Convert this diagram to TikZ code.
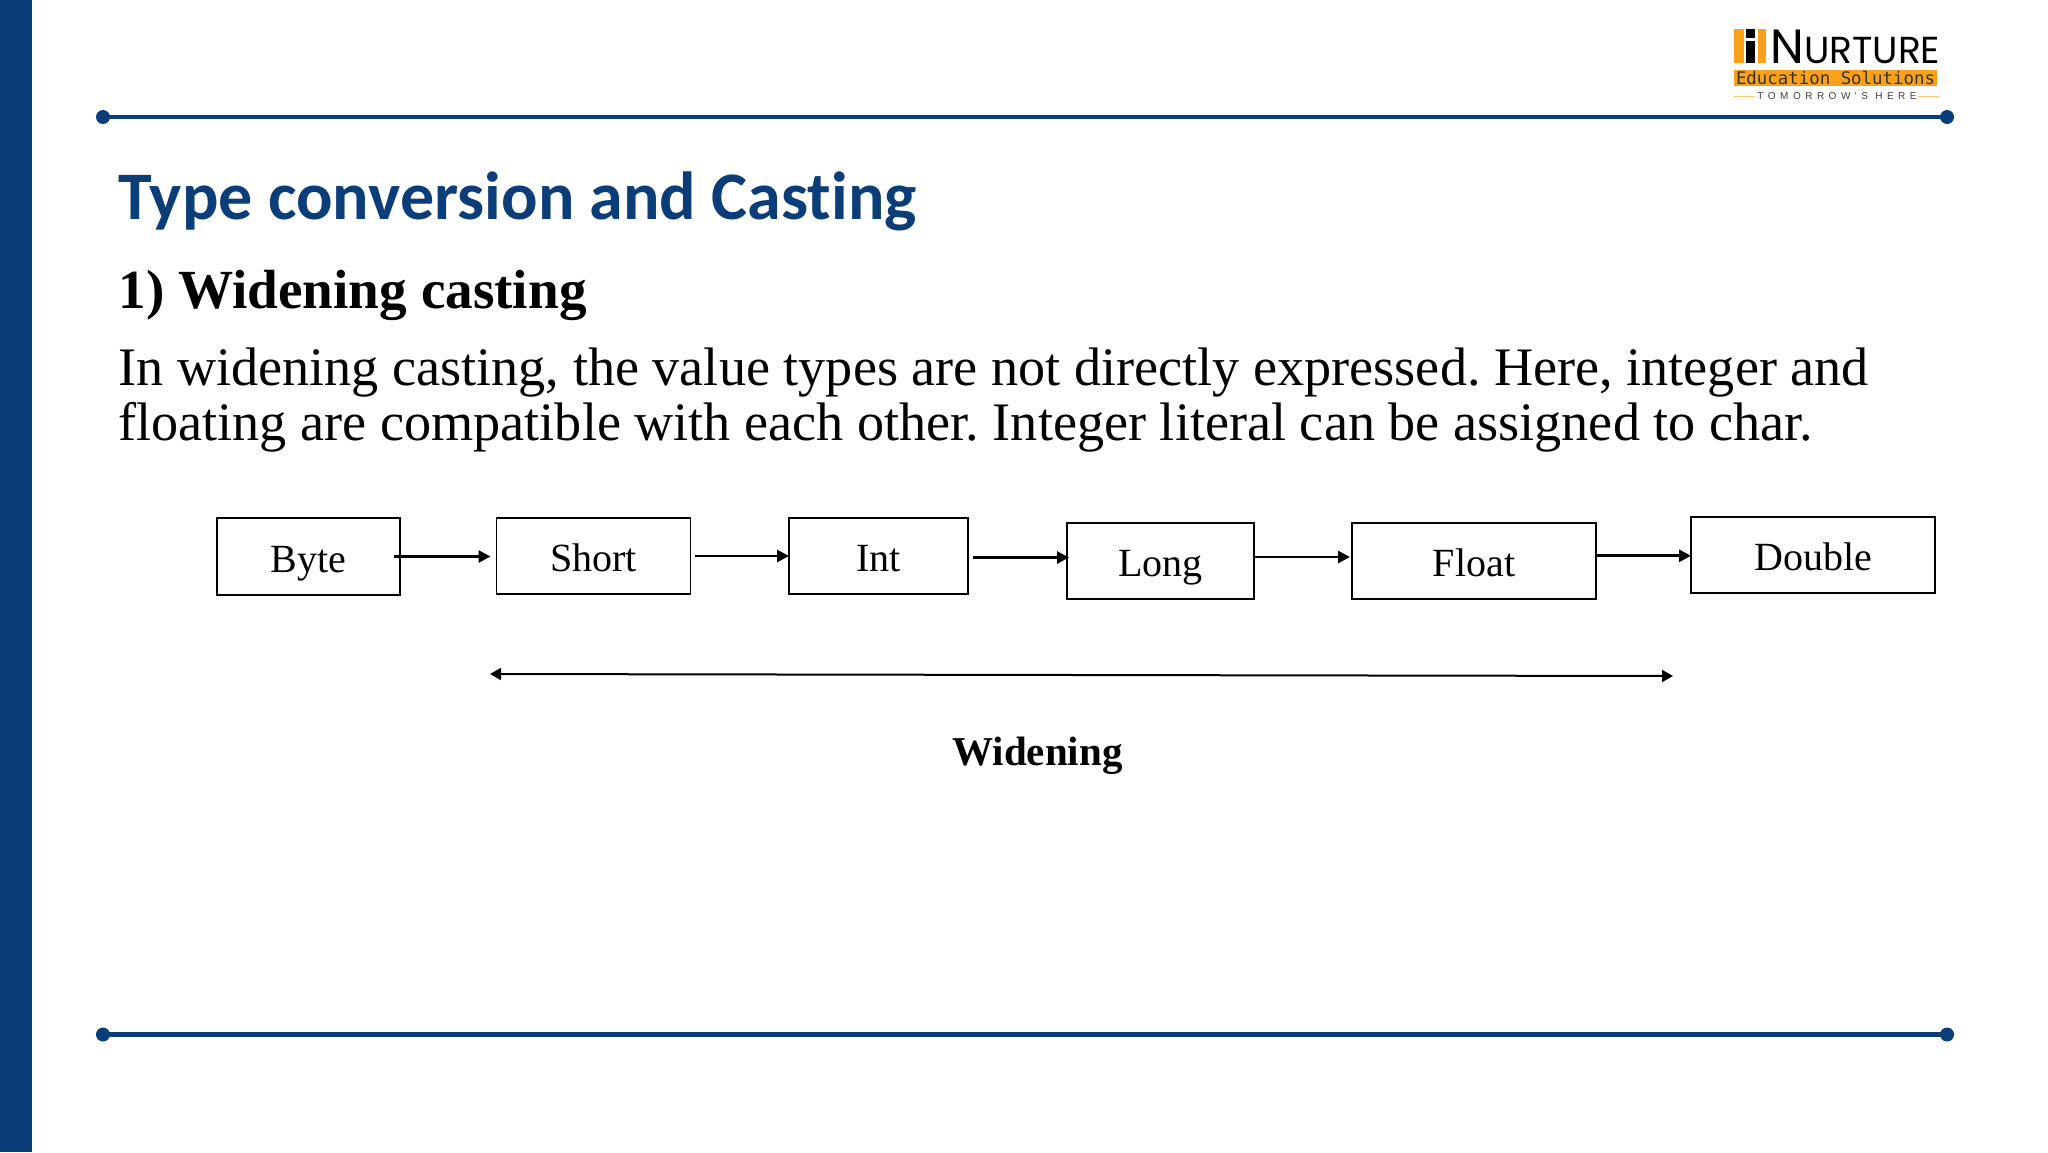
\documentclass[tikz,border=0pt]{standalone}
\usepackage{fontspec}
\setmainfont{Liberation Serif}
\newfontfamily\titlefont[Ligatures=NoCommon]{Carlito}
\newfontfamily\logofont{Poppins}
\newfontfamily\logomono{DejaVu Sans Mono}
\newfontfamily\logotiny[LetterSpace=45]{Liberation Sans}
\usetikzlibrary{arrows.meta}
\definecolor{slideblue}{HTML}{0B3D78}
\definecolor{logoorange}{HTML}{F9A11B}
\frenchspacing
\newcommand{\rail}[1] {
    \draw[railline] (103,{#1}) -- (1947,{#1});
    \fill[slideblue] (103,{#1}) circle (3.5pt);
    \fill[slideblue] (1947,{#1}) circle (3.5pt);
}
\tikzset{
    typebox/.style={
        draw,
        rectangle,
        line width=0.9pt,
        inner sep=0pt,
        outer sep=0pt,
        text height=20.8pt,
        text depth=5pt,
        font=\fontsize{20}{24}\selectfont
    },
    conn/.style={line width=1.4pt,-{Triangle[length=6pt,width=6pt]}},
    span/.style={line width=1pt,{Triangle[length=5.5pt,width=6pt]}-{Triangle[length=5.5pt,width=6pt]}},
    railline/.style={slideblue,line width=2.3pt}
}
\begin{document}
\begin{tikzpicture}[x=0.5pt,y=-0.5pt]
    \useasboundingbox (0,0) rectangle (2048,1152);
    \fill[white] (0,0) rectangle (2048,1152);
    \fill[slideblue] (0,0) rectangle (32,1152);
    \rail{117}
    \rail{1034.5}
    % logo
    \fill[logoorange] (1734,29) rectangle (1744,63);
    \fill[black] (1746,29) rectangle (1755,63);
    \fill[white] (1746,38) rectangle (1755,41);
    \fill[logoorange] (1757.5,29) rectangle (1766,63);
    \node[anchor=base west,inner sep=0pt,font=\logofont\fontsize{24}{24}\selectfont] (logoName) at (1770,63) {N{\fontsize{18.8}{19}\selectfont URTURE}};
    \fill[logoorange] (1734,70) rectangle (1937,86);
    \node[anchor=center,inner sep=0pt,text=black!80,font=\logomono\fontsize{8.7}{9}\selectfont] (logoEdu) at (1835.5,78) {Education Solutions};
    \node[anchor=center,inner sep=0pt,text=black!75,font=\logotiny\fontsize{5}{6}\selectfont] (logoTag) at (1837,96) {TOMORROW'S HERE};
    \draw[logoorange!60,line width=0.4pt] (1734,96) -- (1755,96);
    \draw[logoorange!60,line width=0.4pt] (1918,96) -- (1939,96);
    % text
    \node[anchor=base west,inner sep=0pt,text=slideblue,font=\titlefont\bfseries\fontsize{34}{40}\selectfont] (title) at (118,219) {Type conversion and Casting};
    \node[anchor=base west,inner sep=0pt,font=\bfseries\fontsize{27.6}{32}\selectfont] (heading) at (118,308) {1) Widening casting};
    \node[anchor=base west,inner sep=0pt,font=\fontsize{27.1}{32}\selectfont] (lineA) at (118,385) {In widening casting, the value types are not directly expressed. Here, integer and};
    \node[anchor=base west,inner sep=0pt,font=\fontsize{27.1}{32}\selectfont] (lineB) at (118,440) {floating are compatible with each other. Integer literal can be assigned to char.};
    % boxes
    \foreach \name/\lab/\x/\y/\w/\h in {
            nByte/Byte/308.5/556.5/183/77,
            nShort/Short/593.5/556/194/76,
            nInt/Int/878.5/556/179/76,
            nLong/Long/1160.5/561/187/76,
            nFloat/Float/1474/561/244/76,
            nDouble/Double/1813/555/244/76
    }
        \node[typebox,minimum width=\w*0.5pt,minimum height=\h*0.5pt] (\name) at (\x,\y) {\lab};
    % connectors
    \foreach \a/\b/\dx/\dy/\gap in {
            nByte/nShort/-3/0/-3,
            nShort/nInt/2/0/0,
            nInt/nLong/2.5/-0.75/1,
            nLong/nFloat/0/2/-1,
            nFloat/nDouble/0/2.6/0
    }
        \draw[conn] ([xshift=\dx pt,yshift=\dy pt]\a.east) -- ([xshift=\gap pt,yshift=\dy pt]\a.east -| \b.west);
    \coordinate (spanL) at (490,674);
    \coordinate (spanR) at (1673,676);
    \draw[span] (spanL) -- (spanR);
    \node[anchor=base,inner sep=0pt,font=\bfseries\fontsize{20.5}{24}\selectfont] (widen) at (1037.5,765) {Widening};
\end{tikzpicture}
\end{document}
